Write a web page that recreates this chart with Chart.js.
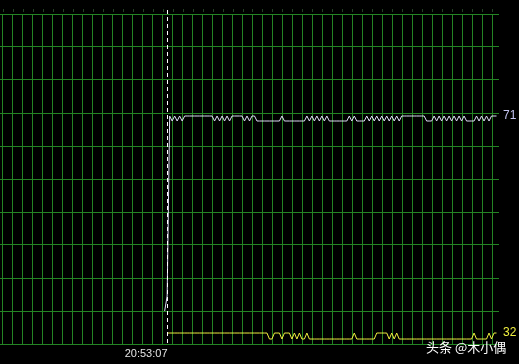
<!DOCTYPE html>
<html>
<head>
<meta charset="utf-8">
<script src="https://cdn.jsdelivr.net/npm/chart.js@4/dist/chart.umd.min.js"></script>
<style>
	html, body { margin: 0; padding: 0; background: #000; }
	canvas { display: block; }
</style>
</head>
<body>
<canvas id="myCanvas" width="519" height="364"></canvas>
<script>
// samples, one per tick of the monitor
const markerIndex = 67;
const markerLabel = '20:53:07';

const whiteStart = 66;
const whiteValues = [
	32, 35, 71, 70, 71, 70, 71, 70,
	71, 71, 71, 71, 71, 71, 71, 71, 71, 71, 71, 71,
	70, 71, 70, 71, 70, 71, 70, 71,
	71, 71, 71, 71,
	70, 71, 70, 71, 71, 70,
	70, 70, 70, 70, 70, 70, 70, 70, 70,
	71,
	70, 70, 70, 70, 70, 70, 70, 70, 70,
	71, 70, 71, 70, 71, 70, 71, 70, 71,
	70, 70, 70, 70, 70, 70, 70, 70,
	71, 70, 71,
	70, 70, 70, 70,
	71, 70, 71, 70, 71, 70, 71, 70, 71, 70, 71, 70, 71, 70,
	71, 71, 71, 71, 71, 71, 71, 71, 71, 71,
	70, 70, 70,
	71, 70, 71, 70, 71, 70, 71, 70, 71, 70, 71, 70, 71, 70,
	70, 70, 70,
	71, 70, 71, 70, 71, 70,
	71, 71, 71
];

const yellowStart = 67;
const yellowValues = [
	32, 32, 32, 32, 32, 32, 32, 32, 32, 32, 32, 32, 32, 32, 32, 32, 32, 32, 32, 32,
	32, 32, 32, 32, 32, 32, 32, 32, 32, 32, 32, 32, 32, 32, 32, 32, 32, 32, 32, 32, 32,
	31, 31, 32, 32, 32, 31, 32, 32, 32, 31, 32, 31, 32, 31, 31, 32,
	31, 31, 31, 31, 31, 31, 31, 31, 31, 31, 31, 31, 31, 31, 31, 31, 31, 31,
	32,
	31, 31, 31, 31, 31, 31, 31, 31,
	32, 32, 32, 32, 32,
	31, 32, 31, 32,
	31, 31, 31, 31, 31, 31, 31, 31, 31, 31, 31, 31, 31, 31, 31,
	31, 31, 31, 31, 31, 31, 31, 31, 31, 31, 31, 31, 31, 31, 31,
	32,
	31, 31, 31, 31, 31,
	32, 31, 32, 32
];

const whiteColor = '#dedef6';
const yellowColor = '#f0f040';
const gridColor = 'rgb(36,132,36)';

const toPoints = (start, values) => values.map((v, i) => ({ x: start + i, y: v }));

const overlay = {
	id: 'overlay',
	afterDatasetsDraw(chart) {
		const ctx = chart.ctx;
		const area = chart.chartArea;
		const xs = chart.scales.x;
		const mx = Math.round(xs.getPixelForValue(markerIndex)) + 0.5;

		ctx.save();
		// faint tick marks above the top grid line
		ctx.strokeStyle = 'rgba(60,110,60,0.6)';
		ctx.lineWidth = 1;
		xs.ticks.forEach(t => {
			const px = Math.round(xs.getPixelForValue(t.value)) + 0.5;
			ctx.beginPath();
			ctx.moveTo(px, area.top - 5);
			ctx.lineTo(px, area.top - 2);
			ctx.stroke();
		});

		ctx.strokeStyle = '#ffffff';
		ctx.setLineDash([4, 3]);
		ctx.beginPath();
		ctx.moveTo(mx, area.top - 4);
		ctx.lineTo(mx, area.bottom);
		ctx.stroke();
		ctx.setLineDash([]);

		ctx.font = '11px "Liberation Sans", sans-serif';
		ctx.textBaseline = 'middle';
		ctx.textAlign = 'right';
		ctx.fillStyle = '#e4e4e4';
		ctx.fillText(markerLabel, mx, 354);

		// current values at the right end
		ctx.textAlign = 'left';
		ctx.font = '12px "Liberation Sans", sans-serif';
		const wLast = whiteValues[whiteValues.length - 1];
		ctx.fillStyle = '#c4c4f0';
		ctx.fillText(String(wLast), area.right + 4, chart.scales.yW.getPixelForValue(wLast));
		const yLast = yellowValues[yellowValues.length - 1];
		ctx.fillStyle = yellowColor;
		ctx.fillText(String(yLast), area.right + 4, chart.scales.yY.getPixelForValue(yLast));

		ctx.font = '13px "Noto Sans CJK SC", sans-serif';
		ctx.fillStyle = '#ffffff';
		ctx.fillText('头条 @木小偶', 426, 347);
		ctx.restore();
	}
};

const chart = new Chart(document.querySelector('#myCanvas'), {
	type: 'line',
	data: {
		datasets: [{
			data: toPoints(whiteStart, whiteValues),
			borderColor: whiteColor,
			borderWidth: 1,
			pointRadius: 0,
			tension: 0,
			yAxisID: 'yW'
		}, {
			data: toPoints(yellowStart, yellowValues),
			borderColor: yellowColor,
			borderWidth: 1,
			pointRadius: 0,
			tension: 0,
			yAxisID: 'yY'
		}]
	},
	options: {
		responsive: false,
		animation: false,
		layout: { padding: { top: 14, right: 20, bottom: 20, left: 0 } },
		plugins: { legend: { display: false }, tooltip: { enabled: false } },
		scales: {
			x: {
				type: 'linear',
				min: 0,
				max: 200,
				afterBuildTicks: axis => {
					const ticks = [];
					for (let k = 0; k < 50; k++) ticks.push({ value: 1.2 + 4 * k });
					axis.ticks = ticks;
				},
				ticks: { display: false },
				border: { display: false },
				grid: { color: gridColor, drawTicks: false }
			},
			y: {
				min: 0,
				max: 10,
				ticks: { display: false, stepSize: 1 },
				border: { display: false },
				grid: { color: gridColor, drawTicks: false }
			},
			yW: { display: false, min: 25.4, max: 91.4 },
			yY: { display: false, min: 30.17, max: 85.17 }
		}
	},
	plugins: [overlay]
});
</script>
</body>
</html>
